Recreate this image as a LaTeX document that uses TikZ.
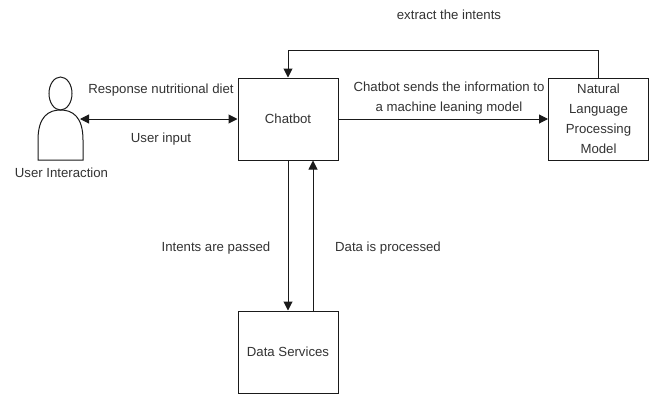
\documentclass[tikz,border=0pt]{standalone}
\usepackage{fontspec}
\setmainfont{Liberation Sans}
\usetikzlibrary{arrows.meta}
\definecolor{ink}{HTML}{1A1A1A}
\definecolor{txt}{HTML}{333333}
\tikzset{
  x=1pt,y=-1pt,
  boxnode/.style={draw=ink,line width=1pt,minimum width=100pt,minimum height=82pt,inner sep=0pt,align=center,text=txt,font=\fontsize{13.2}{20}\selectfont},
  lbl/.style={inner sep=0pt,align=center,text=txt,font=\fontsize{13.2}{20}\selectfont},
  conn/.style={draw=ink,line width=1pt,-{Triangle[length=9pt,width=9pt]}},
  conntwo/.style={draw=ink,line width=1pt,{Triangle[length=9pt,width=9pt]}-{Triangle[length=9pt,width=9pt]}}
}
\begin{document}
\begin{tikzpicture}
\useasboundingbox (0,0) rectangle (651,394);
\fill[white] (0,0) rectangle (651,394);
\node[boxnode] (chat) at (288,119) {Chatbot};
\node[boxnode] (nlp) at (598.5,119) {Natural\\Language\\Processing\\Model};
\node[boxnode] (data) at (288,352) {Data Services};
% actor
\draw[ink,line width=1pt] (60.5,93.5) ellipse [x radius=11.5,y radius=16.5];
\draw[ink,line width=1pt] (38,160) -- (38,140) .. controls (38,116) and (49,110) .. (60.5,110) .. controls (72,110) and (83,116) .. (83,140) -- (83,160) -- cycle;
\coordinate (actorR) at (80,119);
\coordinate (loopL) at (288,50);
\coordinate (loopR) at (598.5,50);
\coordinate (dn) at (288,160);
\coordinate (dnE) at (288,310.5);
\coordinate (up) at (313,310.5);
\coordinate (upE) at (313,160.5);
\draw[conntwo] (actorR) -- (chat.west);
\draw[conn] (chat.east) -- (nlp.west);
\draw[conn] (nlp.north) -- (loopR) -- (loopL) -- (chat.north);
\draw[conn] (dn) -- (dnE);
\draw[conn] (up) -- (upE);
\node[lbl] (l1) at (161,90.5) {Response nutritional diet};
\node[lbl] (l2) at (161,139) {User input};
\node[lbl] (l3) at (61.5,173) {User Interaction};
\node[lbl] (l4) at (449,15) {extract the intents};
\node[lbl] (l5) at (449,98) {Chatbot sends the information to\\a machine leaning model};
\node[lbl] (l6) at (216,248.5) {Intents are passed};
\node[lbl] (l7) at (388,248.5) {Data is processed};
\end{tikzpicture}
\end{document}
